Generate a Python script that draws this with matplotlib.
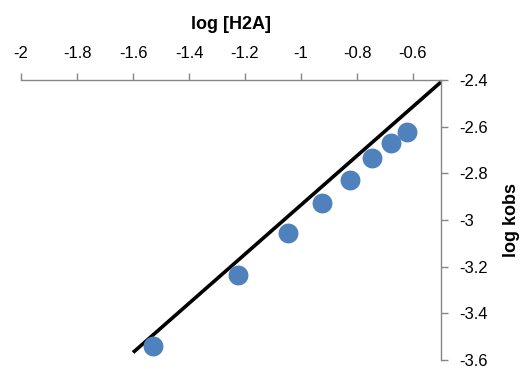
import numpy as np
import matplotlib
matplotlib.use("Agg")
from matplotlib import pyplot as plt

# data
log_h2a = [-1.529, -1.225, -1.046, -0.925, -0.825, -0.748, -0.679, -0.621]
log_kobs = [-3.540, -3.238, -3.055, -2.928, -2.830, -2.736, -2.672, -2.621]
fit_x = [-1.595, -0.505]
slope, intercept = 1.055, -1.881

xticks = [-2, -1.8, -1.6, -1.4, -1.2, -1, -0.8, -0.6]
yticks = [-3.6, -3.4, -3.2, -3, -2.8, -2.6, -2.4]

plt.rcParams['font.family'] = ['Liberation Sans', 'DejaVu Sans']

fig = plt.figure(figsize=(5.24, 3.69), dpi=100)
ax = fig.add_axes([0.0401, 0.0250, 0.8015, 0.7582])

fx = np.array(fit_x)
ax.plot(fx, slope * fx + intercept, color='black', lw=2.6, zorder=2)
ax.scatter(log_h2a, log_kobs, s=205, color='#4f81bd', zorder=3, linewidths=0)

ax.set_xlim(-2, -0.5)
ax.set_ylim(-3.6, -2.4)
ax.set_xticks(xticks)
ax.set_yticks(yticks)
ax.set_xticklabels(['%g' % v for v in xticks])
ax.set_yticklabels(['%g' % v for v in yticks])

ax.xaxis.tick_top()
ax.xaxis.set_label_position('top')
ax.yaxis.tick_right()
ax.yaxis.set_label_position('right')

for s in ['bottom', 'left']:
    ax.spines[s].set_visible(False)
for s in ['top', 'right']:
    ax.spines[s].set_color('#868686')
    ax.spines[s].set_linewidth(1.0)

ax.tick_params(direction='out', length=5, width=1, color='#868686',
               labelsize=12)
ax.tick_params(axis='x', pad=9)
ax.tick_params(axis='y', pad=8)
ax.set_xlabel('log [H2A]', fontsize=13, fontweight='bold', labelpad=12)
ax.set_ylabel('log kobs', fontsize=13, fontweight='bold', labelpad=11)
ax.patch.set_visible(False)

fig.savefig('out.png', dpi=100)
